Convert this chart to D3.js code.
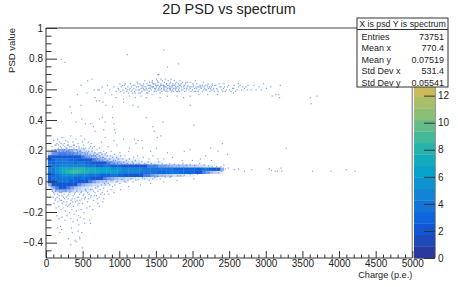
<!DOCTYPE html>
<html lang="en">
<head>
<meta charset="UTF-8"/>
<title>2D PSD vs spectrum</title>
<script src="https://d3js.org/d3.v7.min.js"></script>
<style>
    html, body { margin: 0; background: #fff; }
    text { font-family: "Liberation Sans", Arial, sans-serif; fill: #222; }
    .axis path { display: none; }
    .axis line { stroke: #333; stroke-width: 1; }
    .axis text { font-family: "Liberation Sans", Arial, sans-serif; font-size: 10px; fill: #222; }
</style>
</head>
<body>
<script>
    //charge value at the centre of each column of the dense band
    var coreCharge = [50,100,150,200,250,300,350,400,450,500,550,600,650,700,750,800,850,900,950,1000,
        1050,1100,1150,1200,1250,1300,1350,1400,1450,1500,1550,1600,1650,1700,1750,1800,1850,1900,1950,2000,
        2050,2100,2150,2200,2250,2300,2350,2400];
    var corePsd = [0.20,0.18,0.16,0.14,0.12,0.10,0.08,0.06,0.04,0.02,0,-0.02,-0.04,-0.06];
    var coreCounts = [
        [.1,.3,.4,.5,.5,.5,.4,.3,.3,.2,.1,.1,.1],
        [.3,.6,.7,.8,.8,.7,.7,.6,.5,.4,.3,.2,.2,.1,.1,.1],
        [1,1.2,1.5,1.5,1.5,1.5,1.2,1,1,.8,.6,.5,.4,.3,.2,.2,.1,.1,.1,.1],
        [1.5,2,2.5,2.5,2.5,2.5,2.2,2,1.5,1.2,1,1,.8,.6,.5,.4,.3,.2,.2,.2,.1,.1,.1,.1,.1],
        [2,3,3.5,3.5,3.5,3.5,3.5,3,2.5,2.5,2,2,1.5,1.5,1,1,.8,.6,.5,.4,.3,.3,.2,.2,.2,.1,.1,.1,.1,.1,.1],
        [2.5,3.5,4,4.5,5,5,5,5,4.5,4.5,4,3.5,3.5,3,3,2.5,2.5,2.2,2,2,1.5,1.5,1.5,1.2,1,1,1,.8,.8,.8,.6,.6,.5,.5,.4,.4,.4,.4,.3,.3,.3,.2,.2,.1,.1],
        [2.5,4,5.5,6,7,7.5,7.5,8,8,8,7.5,7,7,6.5,6,6,6,5.5,5.5,5.5,5,5,5,4.5,4.5,4.5,4,4,4,4,3.5,3.5,3.5,3.5,3,3,3,3,3,3,3,3,2.5,2.5,2,1.5,1,.5],
        [2.5,4,5.5,6.5,7.5,8,8.5,8.5,8.5,8,8,7.5,7,7,6.5,6,6,6,6,5.5,5,5,5,5,4.5,4,4,4,3.5,3.5,3,3,2.5,2.5,2.5,2.5,2.2,2,2,2,1.5,1,.8,.6,.4,.3,.2,.1],
        [2,3,4,5,5.5,5.5,5.5,5.5,5,4.5,4.5,4,3.5,3.5,3,3,3,2.5,2.5,2.2,2,1.5,1.5,1.2,1,1,.8,.8,.6,.5,.4,.4,.3,.3,.2,.2,.2,.1,.1,.1],
        [1.5,2.5,3.5,3.5,3.5,3.5,3.5,3,3,2.5,2.2,2,1.5,1.2,1,.8,.6,.5,.4,.3,.3,.2,.2,.2,.1,.1,.1,.1,.1,.1],
        [1,1.5,2.5,2.5,2.5,2.5,2.2,2,1.5,1.2,1,.8,.6,.4,.3,.3,.2,.2,.1,.1,.1,.1],
        [.5,1,1.5,1.5,1.5,1.5,1.2,1,.7,.5,.4,.3,.2,.2,.1,.1,.1],
        [.1,.5,.8,1,1,.8,.6,.4,.3,.2,.2,.1,.1,.1],
        [0,.2,.4,.5,.5,.4,.3,.2,.2,.1,.1,.1]
    ];

    //single filled bins around the dense band, [charge, psd]
    var upperSpots = [[95,.27],[130,.24],[150,.28],[180,.26],[210,.29],[240,.25],[260,.27],[300,.24],[330,.3],[360,.26],[400,.28],[430,.25],[470,.3],[500,.24],[520,.28],[570,.26],[610,.25],[650,.23],[690,.21],[720,.22],
        [120,.21],[160,.22],[190,.23],[220,.21],[250,.23],[280,.22],[310,.21],[340,.23],[370,.22],[410,.21],[440,.23],[480,.22],[510,.21],[540,.2],[580,.22],[620,.2],[660,.19],[700,.18],[740,.19],[780,.2],
        [140,.25],[170,.2],[200,.25],[230,.2],[270,.2],[290,.26],[320,.19],[350,.2],[380,.24],[420,.19],[450,.2],[490,.26],[530,.18],[560,.19],[600,.23],[640,.17],[680,.16],[720,.17],[760,.16],[800,.18],
        [830,.17],[860,.15],[900,.16],[940,.14],[980,.15],[1010,.17],[1050,.13],[1090,.14],[1130,.15],[1170,.13],[1210,.14],[1260,.12],[1300,.13],[1340,.12],[1390,.13],[1430,.12],[1480,.11],[1530,.13],[1580,.12],[1630,.11],
        [1680,.12],[1740,.115],[1800,.11],[1860,.12],[1910,.11],[1960,.115],[2020,.11],[2090,.12],[2150,.11],[2210,.105],[2260,.1],[2320,.1],[2380,.1],[2420,.11],[2440,.085],[2390,.07],[2350,.06],
        [880,.2],[930,.18],[1000,.19],[1070,.17],[1120,.2],[1190,.16],[1240,.17],[1320,.16],[1400,.15],[1450,.17],[1520,.15],[1600,.15],[1720,.16],[1850,.14],[1990,.14],[2100,.15],[2250,.14],
        [750,.26],[840,.23],[920,.27],[960,.24],[1050,.28],[1130,.22],[1220,.25],[1250,.27],[1310,.22],[1420,.2],[1500,.22],[1650,.19],[1880,.2],[1960,.21],[2170,.17],[2340,.2],[2470,.18],
        [70,.2],[75,.23],[85,.18],[105,.19],[115,.24],[125,.17],[145,.19],[155,.21],[165,.24],[175,.18],[185,.21],[195,.19],[205,.22],[215,.18],[225,.24],[235,.19],[245,.21],[255,.18],[265,.22],[275,.19],
        [285,.24],[295,.2],[305,.18],[315,.23],[325,.2],[335,.17],[345,.21],[355,.18],[365,.24],[375,.19],[385,.21],[395,.17],[405,.23],[415,.18],[425,.2],[435,.17],[445,.22],[455,.18],[465,.2],[475,.16],
        [485,.19],[495,.17],[505,.22],[515,.16],[525,.19],[535,.22],[545,.16],[555,.18],[565,.15],[575,.2],[585,.16],[595,.18],[605,.15],[615,.17],[625,.22],[635,.15],[645,.18],[655,.15],[665,.17],[675,.14],
        [685,.18],[695,.15],[705,.13],[715,.19],[725,.14],[735,.16],[745,.13],[755,.18],[765,.14],[775,.16],[785,.13],[795,.15],[810,.13],[820,.19],[835,.14],[850,.12],[870,.17],[885,.13],[910,.14],[925,.12],
        [955,.16],[970,.12],[990,.13],[1020,.12],[1040,.15],[1065,.11],[1100,.12],[1150,.115],[1185,.12],[1230,.115],[1280,.11],[1330,.11],[1370,.115],[1410,.105]];
    var lowerSpots = [[60,-.03],[80,-.06],[110,-.08],[140,-.05],[170,-.09],[200,-.07],[230,-.1],[260,-.06],[290,-.09],[320,-.07],[350,-.11],[380,-.08],[410,-.06],[440,-.1],[470,-.07],[500,-.09],[540,-.06],[580,-.08],[620,-.05],[660,-.07],
        [90,-.1],[125,-.11],[155,-.13],[185,-.12],[215,-.14],[245,-.11],[275,-.13],[305,-.15],[335,-.12],[365,-.16],[395,-.13],[425,-.15],[455,-.12],[490,-.14],[520,-.11],[560,-.13],[600,-.1],[640,-.12],[680,-.09],[720,-.1],
        [100,-.14],[130,-.17],[165,-.16],[195,-.18],[225,-.17],[255,-.19],[285,-.16],[315,-.2],[345,-.18],[375,-.21],[405,-.19],[435,-.22],[470,-.18],[510,-.2],[550,-.17],[590,-.16],[630,-.18],[700,-.14],[770,-.13],[760,-.07],
        [140,-.22],[170,-.24],[210,-.23],[250,-.25],[280,-.22],[330,-.24],[360,-.26],[420,-.25],[440,-.28],[460,-.23],[510,-.24],[590,-.25],[600,-.27],[150,-.3],[180,-.33],[190,-.29],[205,-.31],[340,-.3],[350,-.33],[430,-.32],[450,-.36],[480,-.33],
        [300,-.37],[330,-.41],[390,-.38],[405,-.39],[455,-.37],[490,-.43],[520,-.27],
        [800,-.02],[840,-.01],[900,-.03],[950,0],[1000,-.01],[1060,.005],[1110,.01],[1180,0],[1250,.015],[1340,.02],[1400,.01],[1480,.03],[1550,.02],[1620,.03],[1700,.035],[1790,.04],[1880,.045],[1960,.05],[2060,.05],[2130,.055],[2220,.06],
        [780,-.04],[830,-.06],[880,-.05],[920,-.07],[1010,-.05],[1120,-.03],[1280,-.02],[1420,-.01],[1600,0],[1780,.01],[2010,.02],[720,-.16],[780,-.11],[700,-.06],
        [65,-.05],[95,-.07],[120,-.06],[150,-.08],[180,-.07],[210,-.09],[240,-.08],[270,-.1],[300,-.08],[330,-.06],[360,-.09],[390,-.07],[420,-.1],[450,-.08],[480,-.06],[510,-.08],[530,-.05],[560,-.07],[595,-.05],[610,-.09],
        [640,-.06],[670,-.04],[700,-.03],[730,-.05],[750,-.02],[790,-.01],[820,.005],[860,-.02],[890,.01],[930,-.02],[970,.005],[1030,.015],[1080,0],[1150,.02],[1220,.01],[1310,.025],[1450,.02],[1520,.035],[1680,.03],[1830,.04],
        [115,-.12],[145,-.1],[175,-.11],[205,-.12],[235,-.13],[265,-.15],[295,-.11],[325,-.14],[355,-.13],[385,-.11],[415,-.12],[445,-.14],[480,-.11],[530,-.1],[570,-.11],[650,-.09],[690,-.11],[740,-.08],[790,-.08],[850,-.08]];
    var upperBandSpots = [[720,.6],[760,.62],[800,.58],[830,.63],[860,.6],[890,.57],[920,.62],[950,.59],[975,.61],[1000,.64],[1020,.62],[1040,.6],[1060,.63],[1080,.61],[1090,.59],[1110,.62],[1130,.6],[1145,.64],[1160,.62],[1175,.58],
        [1190,.61],[1205,.63],[1220,.6],[1235,.65],[1250,.62],[1260,.58],[1275,.64],[1290,.61],[1300,.59],[1315,.63],[1330,.6],[1340,.66],[1355,.62],[1370,.64],[1380,.58],[1395,.61],[1405,.65],[1420,.63],[1430,.6],[1445,.66],
        [1455,.62],[1470,.59],[1480,.64],[1490,.61],[1500,.67],[1510,.63],[1520,.6],[1530,.65],[1540,.62],[1550,.58],[1560,.64],[1570,.61],[1580,.66],[1590,.63],[1600,.6],[1610,.65],[1620,.62],[1630,.59],[1640,.64],[1650,.61],
        [1660,.66],[1670,.63],[1680,.6],[1690,.65],[1700,.62],[1710,.59],[1720,.64],[1730,.61],[1740,.66],[1750,.63],[1760,.6],[1770,.65],[1780,.62],[1790,.59],[1800,.64],[1810,.61],[1825,.63],[1840,.6],[1855,.65],[1870,.62],
        [1885,.59],[1900,.64],[1915,.61],[1930,.63],[1945,.6],[1960,.65],[1975,.62],[1990,.6],[2005,.63],[2020,.61],[2035,.59],[2050,.64],[2065,.62],[2080,.6],[2095,.63],[2110,.61],[2130,.59],[2150,.62],[2170,.6],[2190,.63],
        [2210,.61],[2230,.59],[2250,.62],[2270,.6],[2295,.63],[2320,.61],[2340,.59],[2365,.62],[2390,.6],[2415,.61],[2440,.59],[2470,.62],[2500,.6],[2540,.61],[2580,.59],[2620,.62],[2660,.6],[2700,.61],[2740,.6],
        [1170,.6],[1210,.58],[1250,.6],[1290,.63],[1330,.62],[1370,.6],[1410,.62],[1450,.64],[1490,.63],[1530,.61],[1570,.63],[1610,.62],[1650,.63],[1690,.61],[1730,.63],[1770,.61],[1810,.63],[1450,.62],[1500,.62],[1550,.62],
        [1600,.63],[1640,.62],[1680,.62],[1720,.62],[1760,.62],[1400,.63],[1360,.61],[1320,.61],[1480,.6],[1520,.63],[1560,.6],[1600,.61],[1640,.6],[1680,.64],[1720,.6],[1760,.64],[1800,.6],[1840,.62],[1880,.61],[1920,.62],
        [1960,.61],[2000,.62],[2040,.62],[2080,.62],[2120,.62],[2160,.61],[2200,.62],[2240,.61],[2280,.61],[1440,.65],[1510,.66],[1620,.67],[1560,.67],[1700,.67],[1820,.66],[1900,.65],[2030,.66],[2140,.65],[2260,.64],[1520,.7],
        [950,.55],[1050,.54],[1130,.56],[1210,.55],[1290,.56],[1360,.55],[1440,.57],[1550,.55],[1650,.56],[1780,.56],[1870,.55],[1960,.56],[2080,.57],[2200,.57],[2330,.57],[2550,.58],[2420,.64],[2560,.63],[2620,.64],
        [985,.6],[1010,.59],[1035,.63],[1055,.58],[1075,.64],[1100,.6],[1120,.58],[1140,.61],[1155,.59],[1180,.63],[1200,.59],[1225,.62],[1245,.64],[1265,.6],[1285,.58],[1305,.62],[1325,.64],[1345,.6],[1365,.58],[1385,.63],
        [1400,.59],[1415,.61],[1435,.62],[1460,.64],[1475,.61],[1495,.59],[1515,.65],[1535,.6],[1555,.63],[1575,.59],[1595,.62],[1615,.6],[1635,.64],[1655,.59],[1675,.61],[1695,.6],[1715,.63],[1735,.59],[1755,.61],[1775,.59],
        [1795,.62],[1815,.59],[1835,.64],[1860,.6],[1880,.63],[1905,.6],[1925,.65],[1950,.62],[1970,.59],[1995,.64],[2015,.59],[2045,.61],[2070,.59],[2100,.62],[2125,.63],[2145,.6],[2165,.63],[2185,.6],[2205,.64],[2225,.62],
        [2245,.6],[2265,.63],[2290,.59],[2310,.63],[2330,.6],[2355,.64],[2380,.62],[2405,.59],[2430,.62],[2455,.6],[2485,.63],[2520,.59],[2555,.61],[2600,.6],[2640,.63],[2680,.62],[2720,.62]];
    var otherSpots = [[200,.8],[250,.78],[320,.49],[340,.45],[400,.39],[480,.41],[470,.5],[420,.57],[470,.63],[560,.66],[620,.67],[550,.58],[650,.6],[700,.6],[660,.55],[680,.53],[720,.53],[770,.52],[810,.5],[900,.49],
        [1100,.83],[1600,.86],[1800,.77],[1650,.75],[1530,.7],[1360,.42],[1180,.5],[1050,.52],[1250,.49],[1960,.5],[2010,.37],[1450,.36],[1470,.33],[1510,.29],[1590,.39],
        [530,.38],[600,.38],[640,.36],[660,.33],[720,.41],[760,.42],[800,.39],[900,.42],[920,.38],[930,.34],[940,.32],[780,.34],[800,.29],[1200,.28],[1300,.27],[1560,.3],[2240,.22],[2400,.25],[3080,.56],[3170,.57],[3180,.55],[3130,.57],
        [2750,.63],[2790,.6],[2830,.63],[2860,.6],[2900,.62],[2930,.6],[2960,.64],[3000,.61],[3060,.62],[3190,.63],[3600,.55],[3690,.56],[3610,.51],[3630,.07],[3200,.09],[3210,.07],[3120,.07],[3040,.085],[3070,.075],[3150,.07],
        [2800,.08],[2560,.08],[2620,.085],[2700,.07],[2480,.09],[3880,.07],[4090,.08],[4210,.07],[3270,.22]];

    //tick labels
    var xTicks = [0,500,1000,1500,2000,2500,3000,3500,4000,4500,5000];
    var xMinor = [100,200,300,400,600,700,800,900,1100,1200,1300,1400,1600,1700,1800,1900,2100,2200,2300,2400,2600,2700,2800,2900,3100,3200,3300,3400,3600,3700,3800,3900,4100,4200,4300,4400,4600,4700,4800,4900];
    var yTicks = [-0.4,-0.2,0,0.2,0.4,0.6,0.8,1];
    var yMinor = [-0.45,-0.35,-0.3,-0.25,-0.15,-0.1,-0.05,0.05,0.1,0.15,0.25,0.3,0.35,0.45,0.5,0.55,0.65,0.7,0.75,0.85,0.9,0.95];
    var zTicks = [0,2,4,6,8,10,12];
    var zMax = 17;
    var statLabels = ["Entries","Mean x","Mean y","Std Dev x","Std Dev y"];
    var statValues = ["73751","770.4","0.07519","531.4","0.05541"];

    //bird palette stops, first one lifted to match the picture
    var birdColors = ["#2a3a9c","#0f5bde","#1480d6","#06a4ca","#2eb7a4","#87bf77","#d1bb59","#fec832","#f9fb0e"];

    var w = 458, h = 287;
    var plotLeft = 46, plotRight = 412.3, plotTop = 28, plotBottom = 258;

    var xScale = d3.scaleLinear().domain([0, 5000]).range([plotLeft, plotRight]);
    var yScale = d3.scaleLinear().domain([-0.5, 1]).range([plotBottom, plotTop]);
    var zScale = d3.scaleLinear().domain([0, zMax]).range([plotBottom, plotTop]);

    var birdScale = d3.scaleLinear()
        .domain(birdColors.map(function (d, i) { return i / 8; }))
        .range(birdColors);
    var bands = d3.range(20);
    var bandWidth = zMax / 20;
    function countColor(c) {
        //low counts look brighter in the picture than their band
        var shown = c < 3 ? c + 0.9 : c;
        return birdScale(Math.min(19, Math.floor(shown / bandWidth)) / 19);
    }

    var svg = d3.select("body").append("svg")
        .attr("width", w).attr("height", h)
        .style("display", "block");

    //blur stands in for the resampling of the original picture
    svg.append("filter").attr("id", "soft")
        .attr("x", "-5%").attr("y", "-10%").attr("width", "110%").attr("height", "120%")
        .append("feGaussianBlur").attr("stdDeviation", 0.75);

    var cells = [];
    coreCounts.forEach(function (row, i) {
        row.forEach(function (c, j) {
            if (c > 0) cells.push({ q: coreCharge[j], p: corePsd[i], c: c });
        });
    });
    var cellW = xScale(50) - xScale(0);
    var cellH = yScale(0) - yScale(0.02);
    svg.append("g").attr("filter", "url(#soft)").selectAll("rect")
        .data(cells)
        .enter().append("rect")
        .attr("x", function (d) { return xScale(d.q) - cellW / 2; })
        .attr("y", function (d) { return yScale(d.p) - cellH / 2; })
        .attr("width", cellW + 0.3)
        .attr("height", cellH + 0.3)
        .attr("fill", function (d) { return d.c < 1 ? "#2260dc" : countColor(d.c); })
        .attr("opacity", function (d) { return Math.min(1, d.c); });

    //single bins on top so the fringe stays speckled
    var allSpots = upperSpots.concat(lowerSpots, upperBandSpots, otherSpots);
    svg.append("g").selectAll("rect")
        .data(allSpots)
        .enter().append("rect")
        .attr("x", function (d) { return xScale(d[0]); })
        .attr("y", function (d) { return yScale(d[1]); })
        .attr("width", 1.2)
        .attr("height", 1.2)
        .attr("fill", "#2a66e6")
        .attr("opacity", 0.6);

    //axes
    var frame = svg.append("g");
    frame.append("line").attr("x1", plotLeft).attr("x2", plotRight).attr("y1", plotTop).attr("y2", plotTop).attr("stroke", "#444");
    frame.append("line").attr("x1", plotLeft).attr("x2", plotRight).attr("y1", plotBottom).attr("y2", plotBottom).attr("stroke", "#333");
    frame.append("line").attr("x1", plotLeft).attr("x2", plotLeft).attr("y1", plotTop).attr("y2", plotBottom).attr("stroke", "#333");
    frame.append("line").attr("x1", plotRight).attr("x2", plotRight).attr("y1", plotTop).attr("y2", plotBottom).attr("stroke", "#999").attr("stroke-width", 1.4);

    svg.append("g").attr("class", "axis").attr("transform", "translate(0," + plotBottom + ")")
        .call(d3.axisBottom(xScale).tickValues(xTicks).tickSize(-7).tickPadding(2).tickFormat(d3.format("d")));
    svg.append("g").attr("class", "axis").attr("transform", "translate(0," + plotBottom + ")")
        .call(d3.axisBottom(xScale).tickValues(xMinor).tickSize(-3.5).tickFormat(""));
    svg.append("g").attr("class", "axis").attr("transform", "translate(" + plotLeft + ",0)")
        .call(d3.axisLeft(yScale).tickValues(yTicks).tickSize(-11).tickPadding(3).tickFormat(function (d) {
            return d < 0 ? "\u2212" + Math.abs(d) : d;
        }));
    svg.append("g").attr("class", "axis").attr("transform", "translate(" + plotLeft + ",0)")
        .call(d3.axisLeft(yScale).tickValues(yMinor).tickSize(-5.5).tickFormat(""));

    //palette
    var barX = 414, barW = 21;
    svg.append("g").selectAll("rect")
        .data(bands)
        .enter().append("rect")
        .attr("x", barX)
        .attr("y", function (d) { return zScale((d + 1) * bandWidth); })
        .attr("width", barW)
        .attr("height", function (d) { return zScale(d * bandWidth) - zScale((d + 1) * bandWidth) + 0.3; })
        .attr("fill", function (d) { return birdScale(d / 19); });
    frame.append("line").attr("x1", barX + barW).attr("x2", barX + barW).attr("y1", plotTop).attr("y2", plotBottom).attr("stroke", "#333");
    frame.append("line").attr("x1", barX).attr("x2", barX + barW).attr("y1", plotBottom).attr("y2", plotBottom).attr("stroke", "#333");
    svg.append("g").attr("class", "axis").attr("transform", "translate(" + (barX + barW) + ",0)")
        .call(d3.axisRight(zScale).tickValues(zTicks).tickSize(-11).tickPadding(3).tickFormat(d3.format("d")));

    //titles
    svg.append("text").attr("x", 229).attr("y", 14).attr("text-anchor", "middle")
        .attr("font-size", "14.4px").text("2D PSD vs spectrum");
    svg.append("text").attr("x", plotRight).attr("y", 278).attr("text-anchor", "end")
        .attr("font-size", "9.2px").text("Charge (p.e.)");
    svg.append("text").attr("transform", "translate(15," + plotTop + ") rotate(-90)")
        .attr("text-anchor", "end").attr("font-size", "9.5px").text("PSD value");

    //stats box
    var stat = svg.append("g").attr("transform", "translate(357,18)");
    stat.append("rect").attr("width", 91).attr("height", 69)
        .attr("fill", "#fff").attr("stroke", "#333");
    stat.append("line").attr("x1", 0).attr("x2", 91).attr("y1", 11.5).attr("y2", 11.5).attr("stroke", "#333");
    stat.append("text").attr("x", 45.5).attr("y", 9).attr("text-anchor", "middle")
        .attr("font-size", "8.8px").text("X is psd Y is spectrum");
    statLabels.forEach(function (d, i) {
        stat.append("text").attr("x", 4.5).attr("y", 21.5 + i * 11.5).attr("font-size", "9px").text(d);
        stat.append("text").attr("x", 87).attr("y", 21.5 + i * 11.5).attr("text-anchor", "end")
            .attr("font-size", "9px").text(statValues[i]);
    });
</script>
</body>
</html>
